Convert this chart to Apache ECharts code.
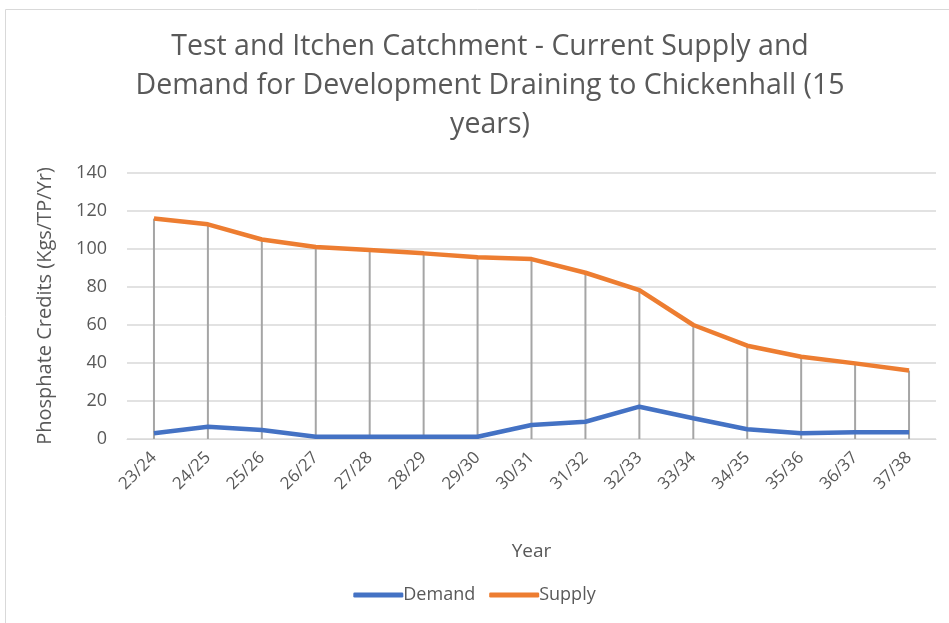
<!DOCTYPE html>
<html>
<head>
<meta charset="utf-8">
<script src="https://cdn.jsdelivr.net/npm/echarts@6/dist/echarts.min.js"></script>
<style>
  html, body { margin: 0; padding: 0; background: #fff; }
  #chart { width: 949px; height: 623px; }
</style>
</head>
<body>
<div id="chart"></div>
<script>
const years = ['23/24', '24/25', '25/26', '26/27', '27/28', '28/29', '29/30', '30/31',
  '31/32', '32/33', '33/34', '34/35', '35/36', '36/37', '37/38']
const demand = [3, 6.5, 4.7, 1.2, 1.2, 1.2, 1.2, 7.4, 9.1, 17, 10.9, 5.1, 3, 3.5, 3.5]
const supply = [116, 113, 105, 101, 99.5, 97.7, 95.6, 94.7, 87.5, 78.4, 60, 49.1, 43.3, 39.8, 36]

const grey = '#595959'
const font = 'Open Sans'

const chart = echarts.init(document.getElementById('chart'))
chart.setOption({
  animation: false,
  textStyle: { fontFamily: font },
  title: {
    text: 'Test and Itchen Catchment - Current Supply and\nDemand for Development Draining to Chickenhall (15\nyears)',
    left: 485,
    textAlign: 'center',
    top: 22,
    textStyle: { color: grey, fontSize: 28.5, fontWeight: 'normal', lineHeight: 39, fontFamily: font }
  },
  graphic: [{
    type: 'rect',
    shape: { x: 5.5, y: 9.5, width: 960, height: 640 },
    style: { fill: 'none', stroke: '#d9d9d9', lineWidth: 1 },
    silent: true
  }],
  legend: {
    data: ['Demand', 'Supply'],
    bottom: 14,
    left: 'center',
    icon: 'roundRect',
    itemWidth: 50,
    itemHeight: 5,
    itemGap: 14,
    textStyle: { color: grey, fontSize: 18, padding: [0, 0, 0, -5] }
  },
  grid: { left: 127, right: 13, top: 173, bottom: 184 },
  xAxis: {
    type: 'category',
    data: years,
    name: 'Year',
    nameLocation: 'middle',
    nameGap: 103,
    nameTextStyle: { color: grey, fontSize: 19 },
    axisLine: { lineStyle: { color: '#d9d9d9' } },
    axisTick: { show: false },
    axisLabel: { color: grey, fontSize: 17, rotate: 45, margin: 16 }
  },
  yAxis: {
    type: 'value',
    min: 0,
    max: 140,
    interval: 20,
    name: 'Phosphate Credits (Kgs/TP/Yr)',
    nameLocation: 'middle',
    nameRotate: 90,
    nameGap: 72,
    nameTextStyle: { color: grey, fontSize: 20 },
    axisLine: { show: false },
    axisTick: { show: false },
    axisLabel: { color: grey, fontSize: 18, margin: 20 },
    splitLine: { lineStyle: { color: '#d9d9d9', width: 1.5 } }
  },
  series: [
    {
      name: 'drop',
      type: 'bar',
      data: supply,
      barWidth: 2,
      itemStyle: { color: '#a5a5a5' },
      silent: true,
      z: 1
    },
    {
      name: 'Demand',
      type: 'line',
      data: demand,
      symbol: 'none',
      lineStyle: { color: '#4472C4', width: 4.5 },
      itemStyle: { color: '#4472C4' },
      z: 3
    },
    {
      name: 'Supply',
      type: 'line',
      data: supply,
      symbol: 'none',
      lineStyle: { color: '#ED7D31', width: 4.5 },
      itemStyle: { color: '#ED7D31' },
      z: 3
    }
  ]
})
</script>
</body>
</html>
